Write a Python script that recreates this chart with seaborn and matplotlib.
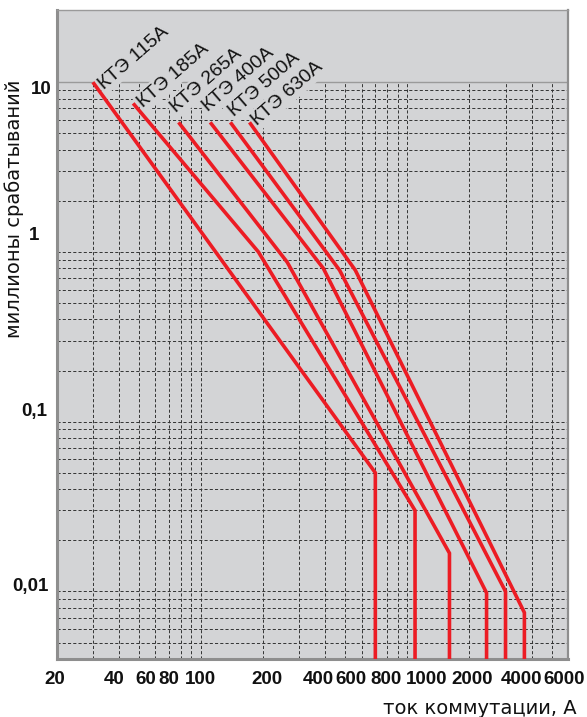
import numpy as np
import pandas as pd
import matplotlib
matplotlib.use("Agg")
import matplotlib.pyplot as plt
import matplotlib.transforms as mtransforms
from matplotlib.ticker import LogLocator, NullFormatter
import seaborn as sns

# curves: switching current (A) -> millions of operations
names = ["КТЭ 115А", "КТЭ 185А", "КТЭ 265А", "КТЭ 400А", "КТЭ 500А", "КТЭ 630А"]
cur_115 = [30, 700, 700]
ops_115 = [10, 0.05, 0.004]
cur_185 = [47, 190, 1090, 1090]
ops_185 = [7.5, 1.0, 0.03, 0.004]
cur_265 = [78, 262, 1600, 1600]
ops_265 = [5.8, 0.87, 0.0168, 0.004]
cur_400 = [111, 392, 2420, 2420]
ops_400 = [5.8, 0.8, 0.0098, 0.004]
cur_500 = [139, 470, 2990, 2990]
ops_500 = [5.8, 0.78, 0.01, 0.004]
cur_630 = [172, 560, 3690, 3690]
ops_630 = [5.8, 0.78, 0.0075, 0.004]

x_ticks = [20, 40, 60, 80, 100, 200, 400, 600, 800, 1000, 2000, 4000, 6000]
y_ticks = [0.01, 0.1, 1, 10]
y_labels = ["0,01", "0,1", "1", "10"]

curves = [(cur_115, ops_115), (cur_185, ops_185), (cur_265, ops_265),
          (cur_400, ops_400), (cur_500, ops_500), (cur_630, ops_630)]
frames = []
for name, (c, o) in zip(names, curves):
    frames.append(pd.DataFrame({"cur": c, "ops": o, "series": name}))
df = pd.concat(frames, ignore_index=True)

bg = "#d3d4d6"
red = "#ec1c24"
edge = "#8e8e8e"

sns.set_style("white")
fig = plt.figure(figsize=(5.87, 7.17), dpi=100)
ax = fig.add_axes([0.0963, 0.0809, 0.8713, 0.9051])
ax.set_facecolor(bg)
ax.set_xscale("log")
ax.set_yscale("log")

sns.lineplot(data=df, x="cur", y="ops", hue="series", palette=[red] * len(names),
             estimator=None, sort=False, legend=False, lw=2.6, ax=ax, zorder=3,
             solid_joinstyle="miter", solid_capstyle="butt")

ax.set_xlim(20, 6000)
ax.set_ylim(0.004, 26.6)

# log grid, dashed
ax.xaxis.set_minor_locator(LogLocator(base=10, subs=np.arange(2, 10), numticks=20))
ax.yaxis.set_minor_locator(LogLocator(base=10, subs=np.arange(2, 10), numticks=20))
ax.xaxis.set_minor_formatter(NullFormatter())
ax.yaxis.set_minor_formatter(NullFormatter())
ax.set_axisbelow(True)
ax.grid(which="both", color="#333333", lw=0.7, linestyle=(0, (3.2, 2.2)))
# grey band above 10 hides the grid there
ax.axhspan(10, 26.6, color=bg, lw=0, zorder=1)
ax.axhline(10, color="#9a9a9a", lw=1.0, zorder=1.5)

ax.set_xticks(x_ticks)
ax.set_xticklabels([str(t) for t in x_ticks])
ax.set_yticks(y_ticks)
ax.set_yticklabels(y_labels)
ax.tick_params(which="both", length=0)
ax.tick_params(axis="x", pad=9)
ax.tick_params(axis="y", pad=5.5)
for lab in ax.get_xticklabels() + ax.get_yticklabels():
    lab.set_fontfamily("Liberation Sans")
    lab.set_fontweight("bold")
    lab.set_fontsize(13.5)
    lab.set_color("#111111")

# the original nudges its tick labels by hand
x_shift = [-1.5, -4.5, -9, -12.5, 0, 4, -7, -11, -1, 19, 3, -10, -4]
y_shift = [(0, 7), (-2, 12), (-10, 18), (3, -5)]
for lab, dx in zip(ax.get_xticklabels(), x_shift):
    lab.set_transform(lab.get_transform() + mtransforms.ScaledTranslation(dx / 100, 0, fig.dpi_scale_trans))
for lab, (dx, dy) in zip(ax.get_yticklabels(), y_shift):
    lab.set_transform(lab.get_transform() + mtransforms.ScaledTranslation(dx / 100, dy / 100, fig.dpi_scale_trans))

for side in ["left", "bottom"]:
    ax.spines[side].set_color(edge)
    ax.spines[side].set_linewidth(2.2)
ax.spines["right"].set_color(edge)
ax.spines["right"].set_linewidth(1.6)
ax.spines["top"].set_color("#9a9a9a")
ax.spines["top"].set_linewidth(1.0)

# curve names at the start of each curve
label_off = [(7.7, -5.3), (7.2, -3.2), (-1.9, 6.7), (-1.4, 7.2), (2.4, 3.6), (5.3, -2.4)]
for name, (c, o), off in zip(names, curves, label_off):
    ax.annotate(name, xy=(c[0], o[0]), xytext=off, textcoords="offset points",
                rotation=41, rotation_mode="anchor", ha="left", va="baseline",
                fontsize=14, family="Liberation Sans", color="#111111", zorder=2,
                bbox=dict(boxstyle="square,pad=0.12", fc=bg, ec="none"))

ax.set_xlabel("ток коммутации, А", fontsize=14, family="DejaVu Sans", color="#111111",
              loc="right")
ax.xaxis.set_label_coords(1.0176, -0.062)
ax.set_ylabel("миллионы срабатываний", fontsize=14, family="DejaVu Sans", color="#111111")
ax.yaxis.set_label_coords(-0.063, 0.693)

fig.savefig("out.png", dpi=100, facecolor="white")
